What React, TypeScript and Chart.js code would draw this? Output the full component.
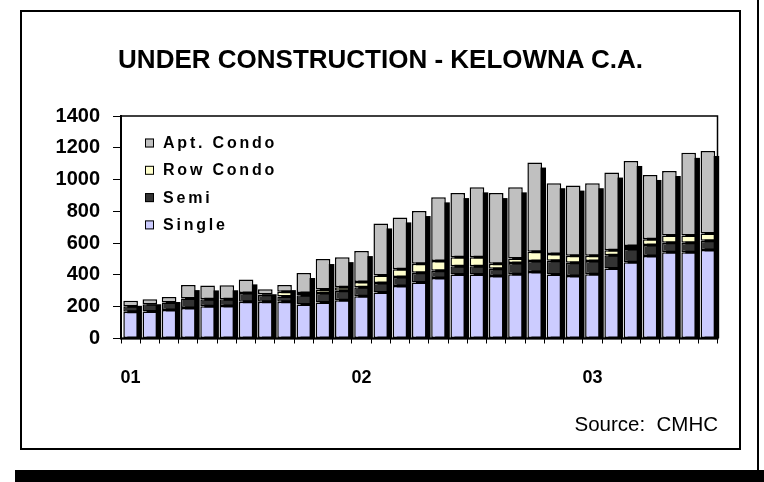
import React, { useEffect, useRef } from "react";
import { Chart, registerables } from "chart.js";

Chart.register(...registerables);

// ---- data ----
const months = [
  "2001-01", "2001-02", "2001-03", "2001-04", "2001-05", "2001-06", "2001-07", "2001-08", "2001-09", "2001-10", "2001-11", "2001-12",
  "2002-01", "2002-02", "2002-03", "2002-04", "2002-05", "2002-06", "2002-07", "2002-08", "2002-09", "2002-10", "2002-11", "2002-12",
  "2003-01", "2003-02", "2003-03", "2003-04", "2003-05", "2003-06", "2003-07",
];
const yearTickLabels = ["01", "02", "03"];
const seriesNames = ["Single", "Semi", "Row Condo", "Apt. Condo"];

const single = [168, 170, 180, 192, 203, 205, 231, 231, 231, 214, 226, 240, 266, 290, 330, 353, 380, 403, 403, 393, 405, 418, 403, 393, 405, 441, 479, 519, 543, 543, 557];
const semi = [35, 46, 46, 60, 44, 42, 56, 45, 33, 58, 60, 60, 57, 60, 57, 60, 46, 52, 52, 46, 70, 70, 86, 84, 82, 83, 84, 69, 60, 60, 58];
const rowCondo = [0, 0, 0, 0, 0, 0, 0, 3, 30, 15, 23, 23, 32, 47, 48, 57, 61, 57, 57, 31, 29, 58, 42, 44, 34, 32, 19, 36, 45, 45, 45];
const aptCondo = [34, 31, 35, 84, 87, 88, 85, 31, 42, 125, 191, 189, 195, 327, 327, 332, 401, 403, 439, 445, 447, 561, 446, 441, 456, 488, 535, 405, 406, 520, 520];

const yMin = 0;
const yMax = 1400;
const yStep = 200;

const seriesColors = ["#CCCCFF", "#333333", "#FFFFCC", "#C0C0C0"];

const FONT = '"Liberation Sans", Arial, Helvetica, sans-serif';

const plotBoxPlugin = {
  id: "plotBox",
  beforeDatasetsDraw(chart: any) {
    const { ctx, chartArea } = chart;
    ctx.save();
    ctx.strokeStyle = "#000";
    ctx.lineWidth = 1.5;
    ctx.strokeRect(chartArea.left, chartArea.top, chartArea.right - chartArea.left, chartArea.bottom - chartArea.top);
    ctx.restore();
  },
};

const shadowPlugin = {
  id: "barShadow",
  beforeDatasetsDraw(chart: any) {
    const { ctx, chartArea } = chart;
    const metas = chart.getSortedVisibleDatasetMetas();
    const base = chart.scales.y.getPixelForValue(0);
    ctx.save();
    ctx.beginPath();
    ctx.rect(chartArea.left, chartArea.top - 2, chartArea.right - chartArea.left + 10, chartArea.bottom - chartArea.top + 2);
    ctx.clip();
    ctx.fillStyle = "#000";
    const n = metas[0].data.length;
    for (let i = 0; i < n; i++) {
      let top = Infinity;
      let x = 0;
      let w = 0;
      metas.forEach((m: any) => {
        const el = m.data[i];
        const p = el.getProps(["x", "y", "width"], true);
        if (p.y < top) top = p.y;
        x = p.x;
        w = p.width;
      });
      ctx.fillRect(x - w / 2 + 4, top + 5, w, base - top - 5);
    }
    ctx.restore();
  },
};

const axisLinesPlugin = {
  id: "axisLines",
  afterDatasetsDraw(chart: any) {
    const { ctx, chartArea } = chart;
    ctx.save();
    ctx.strokeStyle = "#000";
    ctx.lineWidth = 2;
    ctx.beginPath();
    ctx.moveTo(chartArea.left, chartArea.top - 1);
    ctx.lineTo(chartArea.left, chartArea.bottom);
    ctx.lineTo(chartArea.right + 1, chartArea.bottom);
    ctx.stroke();
    ctx.restore();
  },
};

const legendPlugin = {
  id: "insideLegend",
  afterDatasetsDraw(chart: any) {
    const { ctx } = chart;
    const ds = chart.data.datasets;
    ctx.save();
    ctx.font = `bold 16px ${FONT}`;
    (ctx as any).letterSpacing = "2.8px";
    ctx.textBaseline = "middle";
    ctx.textAlign = "left";
    for (let k = 0; k < ds.length; k++) {
      const d = ds[ds.length - 1 - k];
      const yc = 142.5 + 27.3 * k;
      ctx.fillStyle = d.backgroundColor;
      ctx.fillRect(145, yc - 4, 9, 9);
      ctx.strokeStyle = "#000";
      ctx.lineWidth = 1;
      ctx.strokeRect(145.5, yc - 3.5, 8, 8);
      ctx.fillStyle = "#000";
      ctx.fillText(d.label, 163, yc + 1);
    }
    ctx.restore();
  },
};

export default function App() {
  const ref = useRef<HTMLCanvasElement | null>(null);

  useEffect(() => {
    const canvas = ref.current;
    if (!canvas) return;
    const values = [single, semi, rowCondo, aptCondo];
    const chart = new Chart(canvas, {
      type: "bar",
      data: {
        labels: months,
        datasets: seriesNames.map((name, i) => ({
          label: name,
          data: values[i],
          backgroundColor: seriesColors[i],
          borderColor: "#000",
          borderWidth: 1.5,
          borderSkipped: false,
          barPercentage: 0.76,
          categoryPercentage: 1,
        })),
      },
      options: {
        responsive: false,
        devicePixelRatio: 1,
        animation: false,
        events: [],
        layout: { padding: { left: 0, top: 116, right: 46.5, bottom: 70 } },
        plugins: {
          legend: { display: false },
          title: { display: false },
          tooltip: { enabled: false },
        },
        scales: {
          x: {
            stacked: true,
            grid: {
              display: true,
              drawOnChartArea: false,
              drawTicks: true,
              tickLength: 5,
              color: "#000",
              lineWidth: 1,
              offset: true,
            },
            border: { display: false },
            ticks: {
              autoSkip: false,
              maxRotation: 0,
              minRotation: 0,
              padding: 24,
              color: "#000",
              font: { family: FONT, size: 18, weight: "bold" },
              callback: (_v: any, idx: number) => {
                const m = months[idx];
                if (m && m.endsWith("-01")) {
                  return yearTickLabels[Math.floor(idx / 12)];
                }
                return "";
              },
            },
            afterFit: (scale: any) => {
              scale.height = 73.5;
            },
          },
          y: {
            stacked: true,
            min: yMin,
            max: yMax,
            grid: {
              display: true,
              drawOnChartArea: false,
              drawTicks: true,
              tickLength: 8,
              color: "#000",
              lineWidth: 1,
            },
            border: { display: false },
            ticks: {
              stepSize: yStep,
              padding: 13,
              color: "#000",
              font: { family: FONT, size: 20, weight: "bold" },
              callback: (v: any) => String(v),
            },
            afterFit: (scale: any) => {
              scale.width = 121;
            },
          },
        },
      },
      plugins: [plotBoxPlugin, shadowPlugin, axisLinesPlugin, legendPlugin],
    });
    return () => chart.destroy();
  }, []);

  return (
    <div style={{ position: "fixed", left: 0, top: 0, width: 764, height: 482, background: "#fff", overflow: "hidden" }}>
      <div style={{ position: "absolute", left: 20, top: 10, width: 721, height: 440, border: "2px solid #000", boxSizing: "border-box" }} />
      <div style={{ position: "absolute", left: 757, top: 0, width: 2, height: 472, background: "#000" }} />
      <div style={{ position: "absolute", left: 15, top: 470, width: 749, height: 12, background: "#000" }} />
      <canvas ref={ref} width={764} height={482} style={{ position: "absolute", left: 0, top: 0 }} />
      <div
        style={{
          position: "absolute",
          left: 20,
          width: 721,
          top: 44,
          textAlign: "center",
          fontFamily: FONT,
          fontWeight: "bold",
          fontSize: 26,
          lineHeight: "30px",
          color: "#000",
        }}
      >
        UNDER CONSTRUCTION - KELOWNA C.A.
      </div>
      <div
        style={{
          position: "absolute",
          right: 764 - 718,
          top: 412,
          fontFamily: FONT,
          fontSize: 20.5,
          lineHeight: "24px",
          color: "#000",
          whiteSpace: "pre",
        }}
      >
        {"Source:  CMHC"}
      </div>
    </div>
  );
}
